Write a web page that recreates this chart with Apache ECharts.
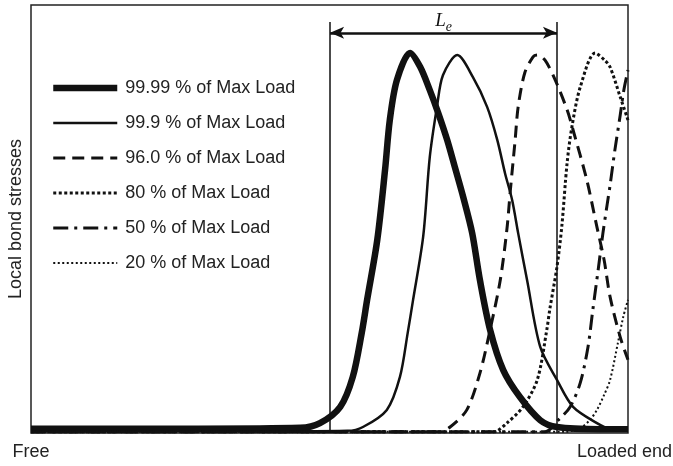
<!DOCTYPE html>
<html>
<head>
<meta charset="utf-8">
<script src="https://cdn.jsdelivr.net/npm/echarts@6/dist/echarts.min.js"></script>
<style>html,body{margin:0;padding:0;background:#fff;}#c{width:673px;height:466px;}</style>
</head>
<body>
<div id="c"></div>
<script>
// Series names
const seriesNames = ['99.99 % of Max Load', '99.9 % of Max Load', '96.0 % of Max Load', '80 % of Max Load', '50 % of Max Load', '20 % of Max Load'];
// [position along bar (0 = free end, 100 = loaded end), relative stress]
const load9999 = [[0,1.0],[28,1.0],[45.1,1.2],[48.4,2.3],[51.8,6.1],[53.9,13.1],[55.4,23.4],[56.3,31.1],[58,45.1],[59.3,61.4],[60.1,73.1],[61.3,82.5],[63.5,88.8],[65.2,85.5],[66.8,80.1],[68.2,74.8],[69.7,68.5],[71,62.1],[72.4,55.1],[73.9,46.7],[75.2,35.7],[76.9,24.1],[79.1,14.7],[81.9,8.4],[85.3,3.0],[88.1,1.4],[95.3,0.9],[100,0.9]];
const load999 = [[0,0.4],[45,0.4],[53,0.5],[55.6,1.4],[59.6,5.4],[61.8,13.1],[63.1,23.4],[64,31.1],[65.7,46],[66.8,64.5],[68,76.2],[69,83.6],[71.4,88.3],[74,83.2],[76.4,76.2],[78.1,68.5],[79.4,60.7],[80.6,54.4],[81.6,46.7],[83.1,35.7],[85.3,20.1],[88.1,12.4],[90.8,6.1],[94.8,2.3],[97,0.9],[100,0.5]];
const load960 = [[0,0.3],[68.5,0.3],[70.2,1.4],[73,5.4],[75.2,14],[76.9,24.1],[78.6,35.7],[79.7,47.4],[80.3,56.8],[81.1,68.5],[81.6,76.2],[82.7,84.1],[84.1,87.9],[84.8,88.3],[86.1,87.1],[87.8,82.5],[89.8,75.5],[90.8,70.8],[93.1,59.1],[94.8,48.1],[96,40.4],[97,31.8],[98.7,22.4],[100,17.1]];
const load80 = [[0,0.3],[77.5,0.3],[79.7,2.3],[82.4,6.1],[84.8,12.4],[86.4,24.1],[86.9,28.9],[88.1,38.8],[88.9,48.1],[89.8,63.1],[90.6,71.5],[92,80.8],[94.5,88.8],[96.1,87.1],[97,85.5],[98.7,78.5],[100,73.1]];
const load50 = [[0,0.3],[86.1,0.3],[88.3,3],[90.3,6.1],[92,11.7],[93.3,20.1],[94.1,28.7],[95,38.1],[95.8,46.7],[96.5,53.3],[97,57.9],[97.8,66.1],[98.7,74.3],[99.3,80.1],[100,84.8]];
const load20 = [[0,0.3],[89.4,0.3],[92,1.2],[93.6,3],[94.8,5.4],[96,8.9],[97,12.4],[98.3,21],[99.2,27.1],[100,31.1]];
// Transfer length bounds (x positions) and marker heights
const leBounds = [50.1, 88.1];
const leTop = 96;
const leArrowY = 93.5;
const xEndLabels = ['Free', 'Loaded end'];

const ink = '#111';
const styles = [
  { width: 6.5 },
  { width: 2.5 },
  { width: 3, type: [12, 7] },
  { width: 3, type: [3, 2.5] },
  { width: 3, type: [15, 6, 3, 6] },
  { width: 2, type: [2, 2.5] }
];
const allData = [load9999, load999, load960, load80, load50, load20];
const chart = echarts.init(document.getElementById('c'));
const series = seriesNames.map((name, i) => ({
  name, type: 'line', data: allData[i], symbol: 'none', smooth: 0.3, z: 3,
  lineStyle: Object.assign({ color: ink, cap: 'butt', join: 'round' }, styles[i]),
  itemStyle: { color: ink }
}));
series.push({
  name: 'Le', type: 'line', data: [], z: 4,
  markLine: {
    silent: true, animation: false,
    data: [
      [{ coord: [leBounds[0], 0], symbol: 'none', lineStyle: { color: ink, width: 1.5, type: 'solid' } }, { coord: [leBounds[0], leTop], symbol: 'none' }],
      [{ coord: [leBounds[1], 0], symbol: 'none', lineStyle: { color: ink, width: 1.5, type: 'solid' } }, { coord: [leBounds[1], leTop], symbol: 'none' }],
      [{ coord: [leBounds[0], leArrowY], symbol: 'arrow', symbolSize: [9, 14],
         lineStyle: { color: ink, width: 2.5, type: 'solid' },
         label: { show: true, position: 'insideMiddleTop', distance: -1, formatter: '{l|L}{s|e}',
           rich: { l: { fontFamily: 'Liberation Serif', fontStyle: 'italic', fontSize: 19, color: ink, verticalAlign: 'top', lineHeight: 22 },
                   s: { fontFamily: 'Liberation Serif', fontStyle: 'italic', fontSize: 14, color: ink, verticalAlign: 'bottom', lineHeight: 22, padding: [8, 0, 0, 0] } } } },
       { coord: [leBounds[1], leArrowY], symbol: 'arrow', symbolSize: [9, 14] }]
    ],
    label: { show: false },
    lineStyle: { color: ink, type: 'solid' }
  }
});
chart.setOption({
  animation: false,
  backgroundColor: '#fff',
  grid: { left: 31, top: 5, right: 45, bottom: 33, show: true, borderColor: '#222', borderWidth: 1.5, backgroundColor: 'transparent', outerBoundsMode: 'none', containLabel: false },
  legend: {
    data: seriesNames.map((name, i) => ({ name, lineStyle: Object.assign({ color: ink }, styles[i]) })),
    orient: 'vertical', left: 45, top: 74,
    itemWidth: 64, itemHeight: 14, itemGap: 17,
    itemStyle: { opacity: 0 },
    textStyle: { fontFamily: 'Liberation Sans', fontSize: 18, color: '#222', padding: [0, 0, 0, 3] }
  },
  xAxis: {
    type: 'value', min: 0, max: 100, interval: 100,
    axisLine: { show: false }, axisTick: { show: false }, splitLine: { show: false },
    axisLabel: {
      margin: 10, fontFamily: 'Liberation Sans', fontSize: 18, color: '#222',
      formatter: v => v === 0 ? '{a|' + xEndLabels[0] + '}' : '{b|' + xEndLabels[1] + '}',
      rich: { a: { fontFamily: 'Liberation Sans', fontSize: 18, color: '#222' }, b: { fontFamily: 'Liberation Sans', fontSize: 18, color: '#222', padding: [0, 7, 0, 0] } }
    }
  },
  yAxis: {
    type: 'value', min: 0, max: 100,
    name: 'Local bond stresses', nameLocation: 'middle', nameGap: 6, nameRotate: 90,
    nameTextStyle: { fontFamily: 'Liberation Sans', fontSize: 18, color: '#222' },
    axisLine: { show: false }, axisTick: { show: false }, axisLabel: { show: false }, splitLine: { show: false }
  },
  series
});
</script>
</body>
</html>
